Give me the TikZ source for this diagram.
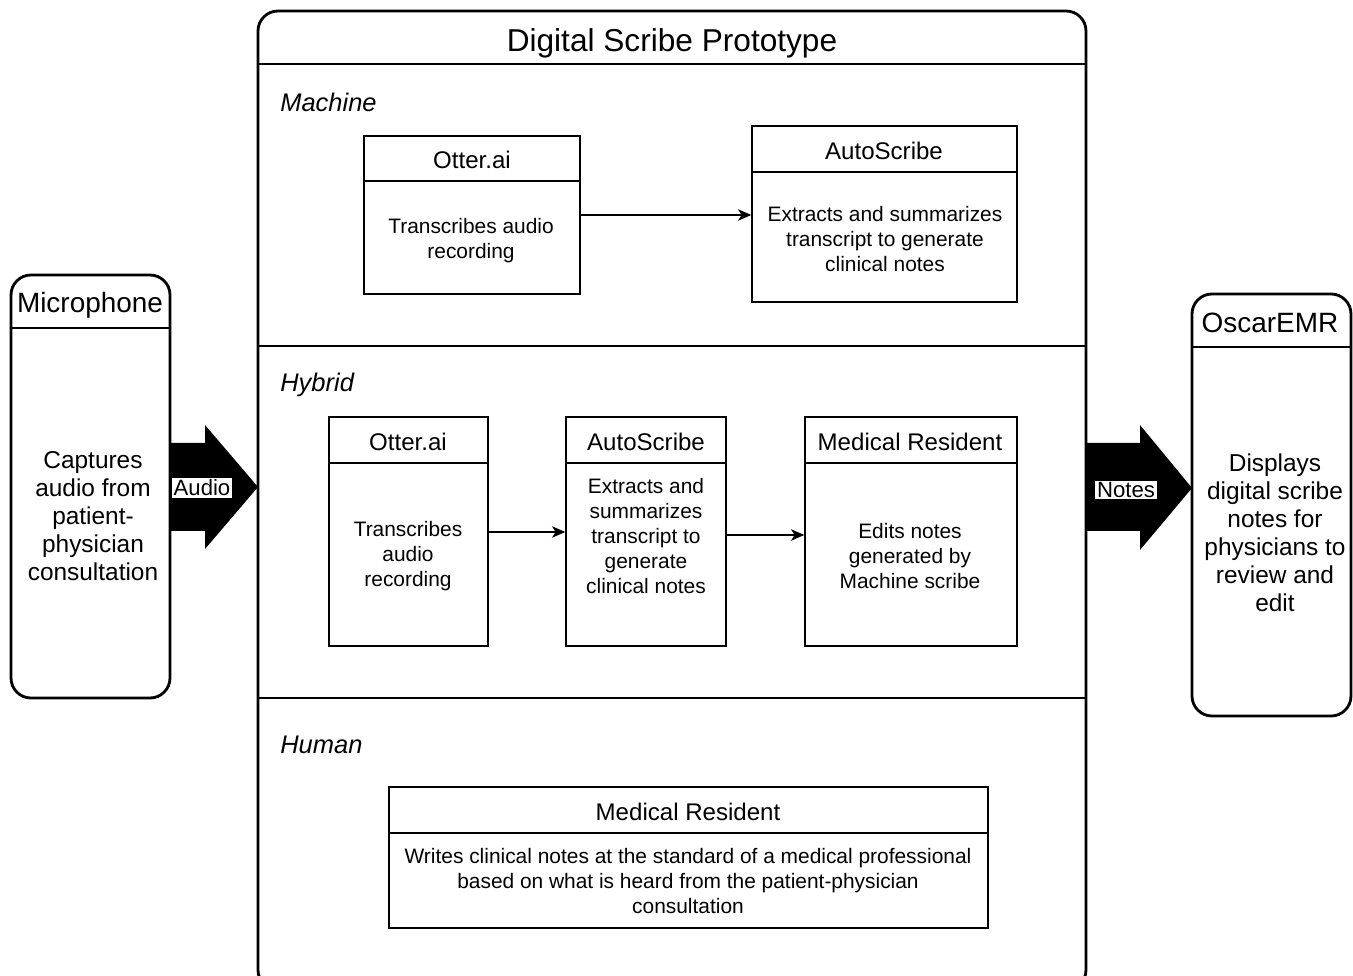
\documentclass[tikz,border=0pt]{standalone}
\usepackage{fontspec}
\setmainfont{Liberation Sans}
\usetikzlibrary{calc,fit,arrows.meta}

\begin{document}
\begin{tikzpicture}[x=0.02cm, y=-0.02cm]
			\tikzstyle{frame}=[draw, line width=1.6pt, rounded corners=0.4cm, inner sep=0pt];
			\tikzstyle{box}=[draw, line width=0.85pt, inner sep=0pt];
			\tikzstyle{head}=[inner sep=0pt, font=\fontsize{13.7}{16}\selectfont];
			\tikzstyle{txt}=[align=center, inner sep=0pt, font=\fontsize{11.9}{14.2}\selectfont];
			\tikzstyle{big}=[align=center, inner sep=0pt, font=\fontsize{13.9}{15.9}\selectfont];
			\tikzstyle{lane}=[anchor=west, inner sep=0pt, font=\fontsize{14.5}{17}\selectfont\itshape];
			\tikzstyle{tag}=[fill=white, inner sep=1pt, font=\fontsize{12.6}{14}\selectfont];
			\tikzstyle{flow}=[line width=0.85pt, -{Stealth[length=7.5pt, width=6.5pt, inset=2pt]}];
			\clip (0,0) rectangle (1353,976);
			% prototype frame
			\node [frame, fit={(258,11) (1086,990)}] (dsp) {};
			\draw [line width=1.6pt] (258,64) -- (1086,64);
			\draw [line width=1.6pt] (258,346) -- (1086,346);
			\draw [line width=1.6pt] (258,698) -- (1086,698);
			\node [font=\fontsize{18}{21}\selectfont] (title) at (672,43) {Digital Scribe Prototype};
			\node [lane] (machine) at (280,102) {Machine};
			\node [lane] (hybrid) at (280,385) {Hybrid};
			\node [lane] (human) at (280,745) {Human};
			% microphone and emr
			\node [frame, fit={(11,275) (170,698)}] (mic) {};
			\draw [line width=1.6pt] (11,328) -- (170,328);
			\node [font=\fontsize{15.9}{18}\selectfont] (micT) at (90,305) {Microphone};
			\node [big] (micB) at (93,516) {Captures\\audio from\\patient-\\physician\\consultation};
			\node [frame, fit={(1192,294) (1351,716)}] (emr) {};
			\draw [line width=1.6pt] (1192,347) -- (1351,347);
			\node [font=\fontsize{15.9}{18}\selectfont] (emrT) at (1270,323) {OscarEMR};
			\node [big] (emrB) at (1275,533) {Displays\\digital scribe\\notes for\\physicians to\\review and\\edit};
			% block arrows
			\fill (170,443) -- (205,443) -- (205,425) -- (258,487) -- (205,549) -- (205,531) -- (170,531) -- cycle;
			\node [tag] (audio) at (202,488) {Audio};
			\fill (1086,443) -- (1140,443) -- (1140,425) -- (1192,488) -- (1140,550) -- (1140,531) -- (1086,531) -- cycle;
			\node [tag] (notes) at (1126,490) {Notes};
			% machine
			\node [box, fit={(364,136) (580,181)}] (ot1T) {};
			\node [head] at (472,160) {Otter.ai};
			\node [box, fit={(364,181) (580,294)}] (ot1) {};
			\node [txt] at (471,241) {Transcribes audio\\recording};
			\node [box, fit={(752,126) (1017,172)}] (as1T) {};
			\node [head] at (884,151) {AutoScribe};
			\node [box, fit={(752,172) (1017,302)}] (as1) {};
			\node [txt] at (885,239) {Extracts and summarizes\\transcript to generate\\clinical notes};
			\draw [flow] (ot1.east |- 0,215) -- (as1.west |- 0,215);
			% hybrid
			\node [box, fit={(329,417) (488,463)}] (ot2T) {};
			\node [head] at (408,442) {Otter.ai};
			\node [box, fit={(329,463) (488,646)}] (ot2) {};
			\node [txt] at (408,556) {Transcribes\\audio\\recording};
			\node [box, fit={(566,417) (726,463)}] (as2T) {};
			\node [head] at (646,442) {AutoScribe};
			\node [box, fit={(566,463) (726,646)}] (as2) {};
			\node [txt] at (646,536) {Extracts and\\summarizes\\transcript to\\generate\\clinical notes};
			\node [box, fit={(805,417) (1017,463)}] (mr2T) {};
			\node [head] at (910,442) {Medical Resident};
			\node [box, fit={(805,463) (1017,646)}] (mr2) {};
			\node [txt] at (910,556) {Edits notes\\generated by\\Machine scribe};
			\draw [flow] (ot2.east |- 0,532) -- (as2.west |- 0,532);
			\draw [flow] (as2.east |- 0,535) -- (mr2.west |- 0,535);
			% human
			\node [box, fit={(389,787) (988,833)}] (mr3T) {};
			\node [head] at (688,812) {Medical Resident};
			\node [box, fit={(389,833) (988,928)}] (mr3) {};
			\node [txt] at (688,881) {Writes clinical notes at the standard of a medical professional\\based on what is heard from the patient-physician\\consultation};
		\end{tikzpicture}
\end{document}
